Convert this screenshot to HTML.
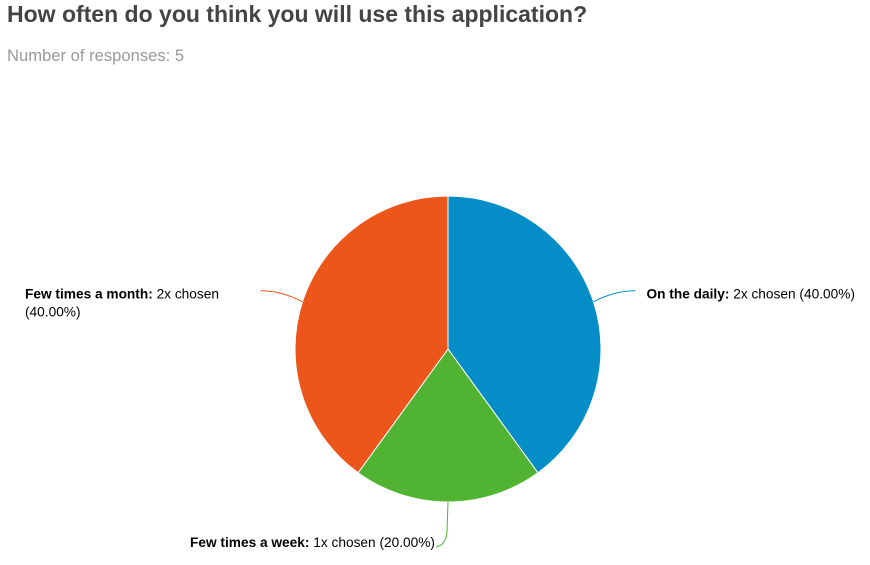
<!DOCTYPE html>
<html><head><meta charset="utf-8"><style>
body{margin:0;background:#fff;width:870px;height:565px;overflow:hidden;font-family:"Liberation Sans","DejaVu Sans",sans-serif}
h1{position:absolute;left:7px;top:1px;margin:0;font-size:23px;font-weight:bold;color:#444}
.sub{position:absolute;left:7px;top:46px;font-size:16.6px;color:#999}
svg{position:absolute;left:0;top:0}
</style></head><body>
<h1>How often do you think you will use this application?</h1>
<div class="sub">Number of responses: 5</div>
<svg id="c" width="870" height="565"></svg>
<script>
const categories=["On the daily","Few times a week","Few times a month"];
const counts=[2,1,2];
const percents=["40.00%","20.00%","40.00%"];
const colors=["#058dc7","#50b432","#ed561b"];
const svg=document.getElementById('c');
const NS="http://www.w3.org/2000/svg";
const cx=448,cy=349,r=153;
const total=counts.reduce((a,b)=>a+b,0);
function pt(a,rr){return [cx+rr*Math.sin(a),cy-rr*Math.cos(a)];}
let start=0;
counts.forEach((v,i)=>{
  const ang=v/total*2*Math.PI,end=start+ang;
  const p1=pt(start,r),p2=pt(end,r);
  const path=document.createElementNS(NS,'path');
  path.setAttribute('d',`M${cx},${cy}L${p1[0]},${p1[1]}A${r},${r} 0 ${ang>Math.PI?1:0} 1 ${p2[0]},${p2[1]}Z`);
  path.setAttribute('fill',colors[i]);path.setAttribute('stroke','#fff');path.setAttribute('stroke-width','1');
  
  
  svg.appendChild(path);
  const mid=start+ang/2;
  const e=pt(mid,r);
  const right=Math.sin(mid)>0.3,left=Math.sin(mid)<-0.3;
  let d;
  if(right||left){const ey=e[1]-11,ex=e[0]+(right?42:-42);d=`M${e[0]},${e[1]}Q${(e[0]+ex)/2},${ey} ${ex},${ey}`;}
  else{d=`M${e[0]},${e[1]}L${e[0]-1},${e[1]+30}Q${e[0]-2},${e[1]+43} ${e[0]-12},${e[1]+45}`;}
  const ln=document.createElementNS(NS,'path');
  ln.setAttribute('d',d);
  ln.setAttribute('fill','none');ln.setAttribute('stroke',colors[i]);ln.setAttribute('stroke-width','1');
  
  
  svg.appendChild(ln);
  const t=document.createElementNS(NS,'text');
  t.setAttribute('font-size','13.7');t.setAttribute('fill','#000');
  
  
  const b=document.createElementNS(NS,'tspan');b.setAttribute('font-weight','bold');b.textContent=categories[i]+':';
  t.appendChild(b);
  if(right){t.setAttribute('x',e[0]+53);t.setAttribute('y',e[1]-3);
    t.appendChild(document.createTextNode(' '+counts[i]+'x chosen ('+percents[i]+')'));}
  else if(left){t.setAttribute('x',25);t.setAttribute('y',e[1]-3);
    t.appendChild(document.createTextNode(' '+counts[i]+'x chosen'));
    const s=document.createElementNS(NS,'tspan');s.setAttribute('x',25);s.setAttribute('dy',18);s.textContent='('+percents[i]+')';t.appendChild(s);}
  else{t.setAttribute('x',190);t.setAttribute('y',e[1]+45);
    t.appendChild(document.createTextNode(' '+counts[i]+'x chosen ('+percents[i]+')'));}
  svg.appendChild(t);
  start=end;
});
</script>
</body></html>
